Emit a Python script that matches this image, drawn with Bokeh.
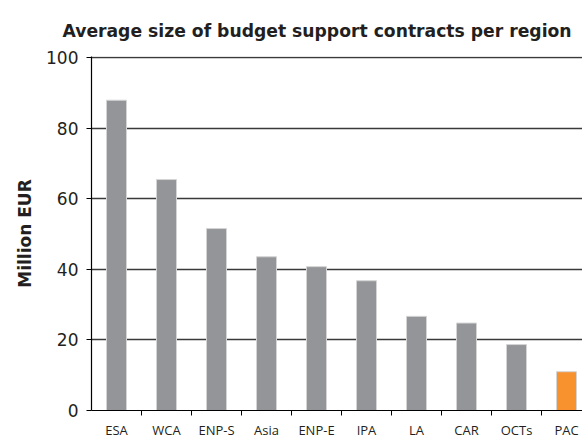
from bokeh.plotting import figure
from bokeh.models import Range1d, FixedTicker, Title
from bokeh.embed import file_html
from bokeh.resources import INLINE

title_text = "Average size of budget support contracts per region"
y_label = "Million EUR"
categories = ["ESA", "WCA", "ENP-S", "Asia", "ENP-E", "IPA", "LA", "CAR", "OCTs", "PAC"]
values = [88.0, 65.5, 51.6, 43.6, 40.8, 36.8, 26.7, 24.8, 18.7, 11.0]
colors = ["#939598"] * 9 + ["#F7922E"]
y_ticks = [0, 20, 40, 60, 80, 100]

xs = [i + 0.5 for i in range(len(categories))]

p = figure(width=582, height=441, output_backend="svg", toolbar_location=None,
           x_range=Range1d(0, 9.82), y_range=Range1d(0, 100.4))
p.min_border_left = 91
p.min_border_top = 56
p.min_border_right = 0
p.min_border_bottom = 31
p.outline_line_color = None
p.background_fill_color = "white"
p.border_fill_color = "white"

p.add_layout(Title(text=title_text, align="left", offset=-29, text_font="DejaVu Sans",
                   text_font_size="17.2px", text_font_style="bold", text_color="#231f20",
                   standoff=32), "above")

p.vbar(x=xs, top=values, width=0.4, fill_color=colors, line_color="#d4d4d4", line_width=1)

# x axis
p.xaxis.ticker = FixedTicker(ticks=xs, minor_ticks=list(range(1, len(categories))))
p.xaxis.major_label_overrides = {x: c for x, c in zip(xs, categories)}
p.xaxis.major_tick_line_color = None
p.xaxis.major_tick_in = 0
p.xaxis.major_tick_out = 0
p.xaxis.minor_tick_in = 0
p.xaxis.minor_tick_out = 5
p.xaxis.minor_tick_line_color = "black"
p.xaxis.axis_line_color = "black"
p.xaxis.axis_line_width = 1.2
p.xaxis.major_label_text_font = "Open Sans"
p.xaxis.major_label_text_font_size = "13px"
p.xaxis.major_label_text_color = "#231f20"
p.xaxis.major_label_standoff = 5

# y axis
p.yaxis.ticker = FixedTicker(ticks=y_ticks)
p.yaxis.minor_tick_line_color = None
p.yaxis.major_tick_in = 0
p.yaxis.major_tick_out = 5
p.yaxis.major_tick_line_color = "black"
p.yaxis.axis_line_color = "black"
p.yaxis.axis_line_width = 1.2
p.yaxis.major_label_text_font = "DejaVu Sans"
p.yaxis.major_label_text_font_size = "17px"
p.yaxis.major_label_text_color = "#231f20"
p.yaxis.major_label_standoff = 8
p.yaxis.axis_label = y_label
p.yaxis.axis_label_text_font = "DejaVu Sans"
p.yaxis.axis_label_text_font_size = "17px"
p.yaxis.axis_label_text_font_style = "bold"
p.yaxis.axis_label_text_color = "#231f20"
p.yaxis.axis_label_standoff = 8

p.xgrid.grid_line_color = None
p.ygrid.ticker = FixedTicker(ticks=y_ticks[1:])
p.ygrid.grid_line_color = "#3a3a3a"
p.ygrid.grid_line_width = 1.5

open("out.html", "w").write(file_html(p, INLINE))
